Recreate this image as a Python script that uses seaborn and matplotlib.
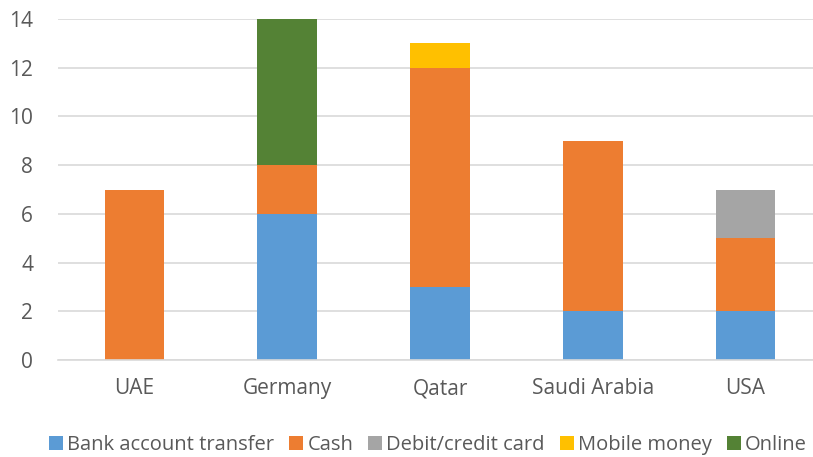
import numpy as np
import pandas as pd
import matplotlib
matplotlib.use("Agg")
import matplotlib.pyplot as plt
import seaborn as sns
from matplotlib.patches import Patch

countries = ['UAE', 'Germany', 'Qatar', 'Saudi Arabia', 'USA']
methods = ['Bank account transfer', 'Cash', 'Debit/credit card', 'Mobile money', 'Online']
bank = [0, 6, 3, 2, 2]
cash = [7, 2, 9, 7, 3]
card = [0, 0, 0, 0, 2]
mobile = [0, 0, 1, 0, 0]
online = [0, 6, 0, 0, 0]
colors = ['#5B9BD5', '#ED7D31', '#A5A5A5', '#FFC000', '#548235']

TEXT = '#595959'

sns.set_theme(style='white')
plt.rcParams['font.family'] = ['Open Sans', 'DejaVu Sans']

df = pd.DataFrame({'country': countries, 'Bank account transfer': bank, 'Cash': cash,
                   'Debit/credit card': card, 'Mobile money': mobile, 'Online': online})
cum = df[methods].cumsum(axis=1)

fig = plt.figure(figsize=(8.13, 4.57), dpi=100)
ax = fig.add_axes([58 / 813, 97 / 457, 764 / 813, 341 / 457])

# draw cumulative totals from the top layer down so lower segments sit on top
for m, c in reversed(list(zip(methods, colors))):
    sns.barplot(x=df['country'], y=cum[m], color=c, width=0.39, ax=ax,
                saturation=1, edgecolor='none', linewidth=0)

ax.set_ylim(0, 14)
ax.set_xlim(-0.5, 4.5)
ax.set_yticks(np.arange(0, 15, 2))
ax.yaxis.grid(True, color='#D9D9D9', linewidth=1.2)
ax.set_axisbelow(True)
for s in ['top', 'right', 'left']:
    ax.spines[s].set_visible(False)
ax.spines['bottom'].set_color('#D9D9D9')
ax.spines['bottom'].set_linewidth(1.2)
ax.set_xlabel('')
ax.set_ylabel('')
ax.tick_params(axis='both', length=0, labelsize=15, labelcolor=TEXT)
ax.tick_params(axis='x', pad=13)
ax.tick_params(axis='y', pad=18)

handles = [Patch(facecolor=c, edgecolor='none') for c in colors]
fig.legend(handles, methods, loc='center', bbox_to_anchor=(428 / 813, 1 - 445 / 457),
           ncol=5, frameon=False, fontsize=14.5, labelcolor=TEXT,
           handlelength=0.7, handleheight=0.7, handletextpad=0.2, columnspacing=0.75)

fig.savefig('out.png', dpi=100)
